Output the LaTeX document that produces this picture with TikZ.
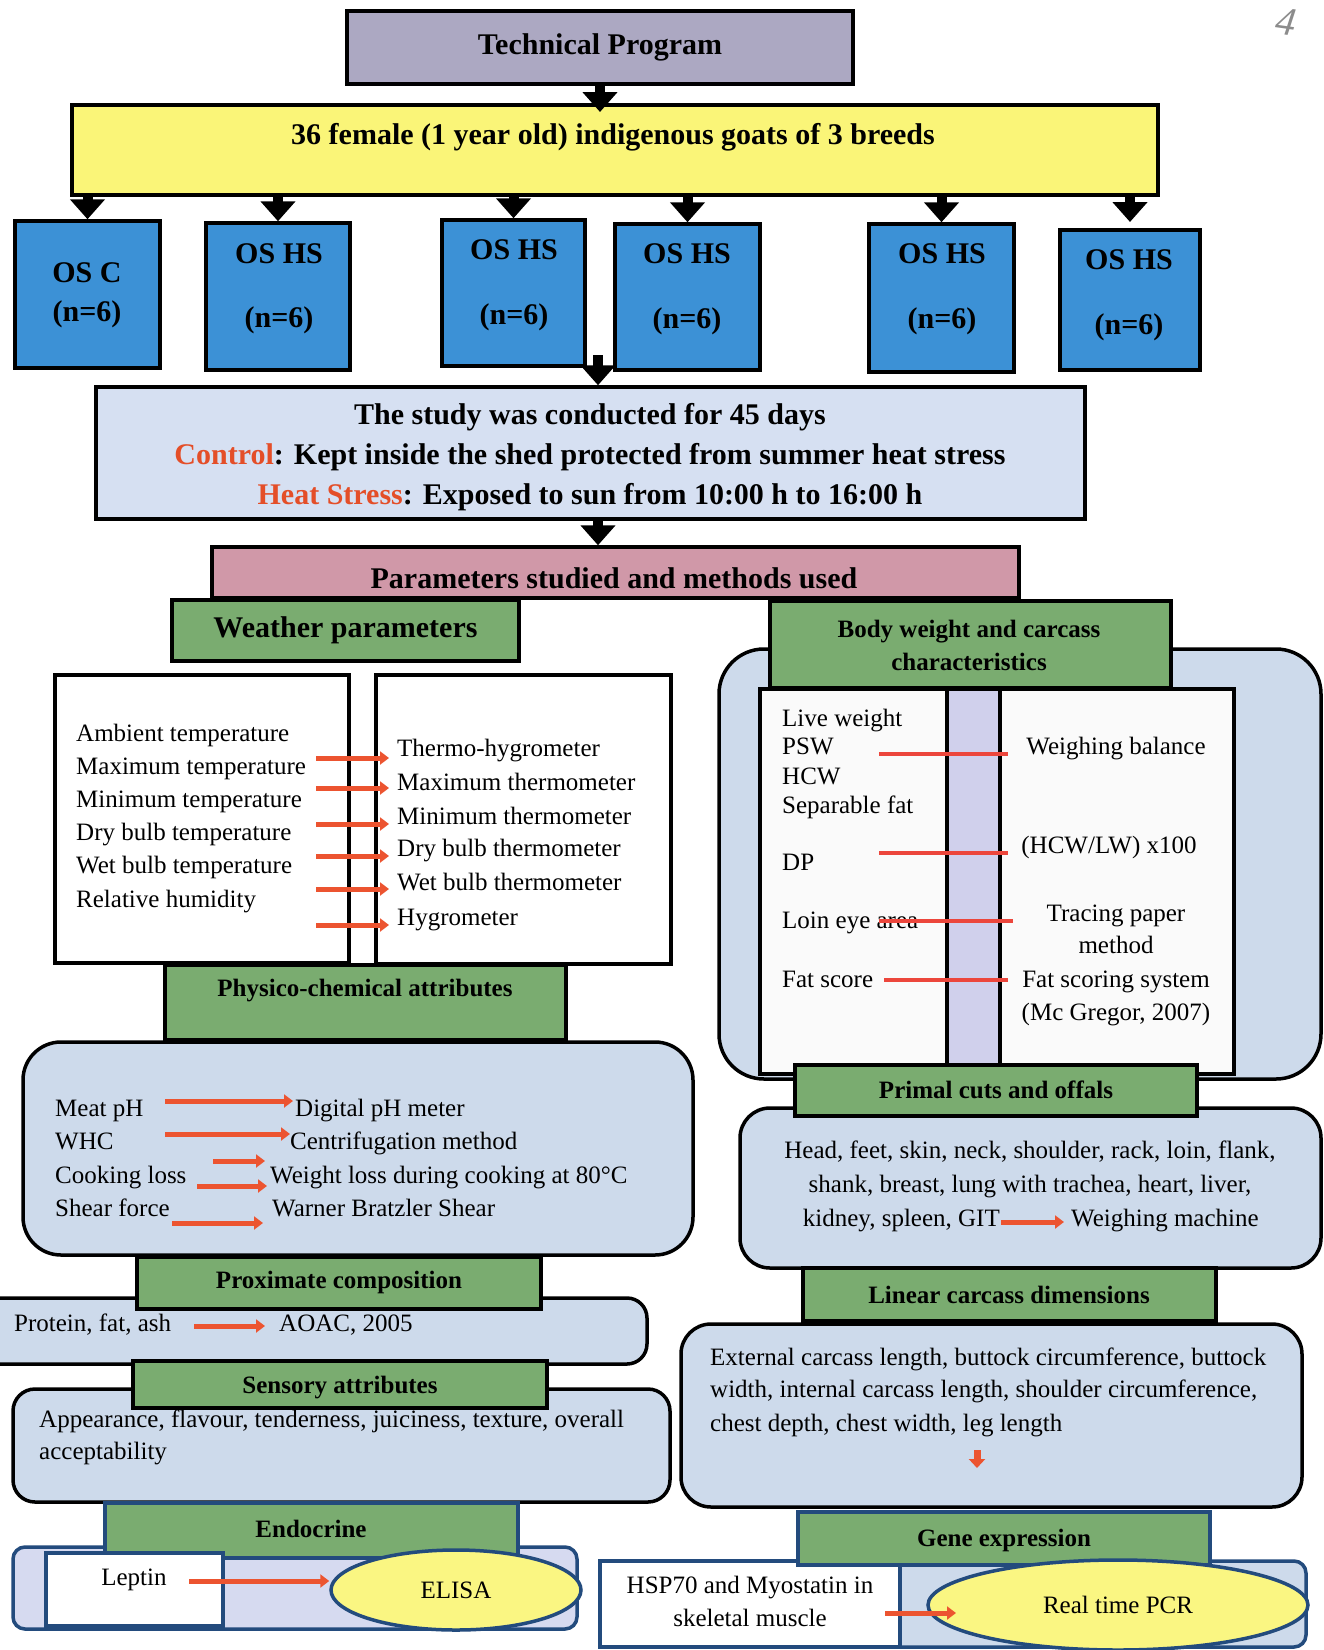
\documentclass[tikz,border=0pt]{standalone}
\usepackage{fontspec}
\setmainfont{Liberation Serif}
\usetikzlibrary{arrows.meta,shapes.geometric}
\newcommand\myfs[1]{\fontsize{#1}{#1}\selectfont}
\definecolor{tpfill}{RGB}{172,168,194}
\definecolor{yelfill}{RGB}{250,245,120}
\definecolor{bluefill}{RGB}{60,145,214}
\definecolor{studyfill}{RGB}{214,224,242}
\definecolor{pinkfill}{RGB}{208,152,168}
\definecolor{grn}{RGB}{122,172,112}
\definecolor{lblue}{RGB}{205,218,235}
\definecolor{lav}{RGB}{208,208,236}
\definecolor{endofill}{RGB}{214,218,240}
\definecolor{redarr}{RGB}{236,84,48}
\definecolor{redln}{RGB}{236,70,60}
\definecolor{ctrl}{RGB}{228,78,40}
\definecolor{navy}{RGB}{35,75,125}
\definecolor{ellfill}{RGB}{250,246,130}
\definecolor{offwhite}{RGB}{250,250,250}
\begin{document}
\begin{tikzpicture}[x=1pt,y=-1pt,
  bx/.style={draw=black, line width=3.5pt, inner sep=0pt, rectangle},
  nbx/.style={bx, draw=navy},
  grnbox/.style={bx, fill=grn},
  cont/.style={bx, fill=lblue},
  tb/.style={font=\bfseries\myfs{30}, inner sep=0pt},
  tm/.style={font=\bfseries\myfs{25}, inner sep=0pt},
  tr/.style={font=\myfs{25}, inner sep=0pt, text height=17pt, text depth=5pt},
  tl/.style={tr, anchor=west},
  blk/.style={line width=10pt, -{Triangle[width=34pt,length=20pt]}},
  rarr/.style={draw=redarr, line width=5pt, -{Triangle[width=13pt,length=9pt]}},
  rln/.style={draw=redln, line width=4pt},
]
\useasboundingbox[fill=white] (0,0) rectangle (1324,1650);

% ---------- top part ----------
\node[bx, fill=tpfill, minimum width=506pt, minimum height=73pt, tb] (tp) at (600,47.5) {Technical Program};
\node[bx, fill=yelfill, minimum width=1086pt, minimum height=90pt] (yel) at (615,150) {};
\node[tb] (yelt) at (613,137) {36 female (1 year old) indigenous goats of 3 breeds};

\node[bx, fill=bluefill, minimum width=145pt, minimum height=147pt] (b1) at (87.5,294.5) {};
\node[bx, fill=bluefill, minimum width=144pt, minimum height=147pt] (b2) at (278,296.5) {};
\node[bx, fill=bluefill, minimum width=143pt, minimum height=146pt] (b3) at (513.5,293) {};
\node[bx, fill=bluefill, minimum width=145pt, minimum height=146pt] (b4) at (687.5,297) {};
\node[bx, fill=bluefill, minimum width=145pt, minimum height=148pt] (b5) at (941.5,298) {};
\node[bx, fill=bluefill, minimum width=140pt, minimum height=140pt] (b6) at (1130,300) {};
\node[tb] (b1a) at (87,273) {OS C};   \node[tb] (b1b) at (87,314) {(n=6)};
\node[tb] (b2a) at (279,254) {OS HS}; \node[tb] (b2b) at (279,320) {(n=6)};
\node[tb] (b3a) at (514,250) {OS HS}; \node[tb] (b3b) at (514,317) {(n=6)};
\node[tb] (b4a) at (687,254) {OS HS}; \node[tb] (b4b) at (687,321) {(n=6)};
\node[tb] (b5a) at (942,254) {OS HS}; \node[tb] (b5b) at (942,321) {(n=6)};
\node[tb] (b6a) at (1129,260) {OS HS}; \node[tb] (b6b) at (1129,327) {(n=6)};

\node[bx, fill=studyfill, minimum width=989pt, minimum height=132pt] (study) at (590.5,453) {};
\node[font=\bfseries\fontsize{30}{40}\selectfont, align=center, inner sep=0pt] (studyt) at (590,457)
 {The study was conducted for 45 days\\
  \textcolor{ctrl}{Control}: Kept inside the shed protected from summer heat stress\\
  \textcolor{ctrl}{Heat Stress}: Exposed to sun from 10:00 h to 16:00 h};

\node[bx, fill=pinkfill, minimum width=807pt, minimum height=51pt] (par) at (615.5,572.5) {};
\node[tb] (part) at (614,578) {Parameters studied and methods used};

% black arrows
\coordinate (a0) at (600,112);
\draw[blk] (tp.south) -- (a0);
\draw[blk] (b1.north |- yel.south) -- (b1.north);
\draw[blk] (b2.north |- yel.south) -- (b2.north);
\draw[blk] (b3.north |- yel.south) -- (b3.north);
\draw[blk] (b4.north |- yel.south) -- (b4.north);
\draw[blk] (b5.north |- yel.south) -- (b5.north);
\coordinate (b6t) at (1130,222);
\draw[blk] (b6t |- yel.south) -- (b6t);
\coordinate (bs) at (598,355);
\draw[blk] (bs) -- (bs |- study.north);
\draw[blk] (study.south -| bs) -- (bs |- par.north);

% ---------- body weight (right) ----------
\node[cont, rounded corners=45pt, minimum width=602pt, minimum height=430pt] (bout) at (1020,864) {};
\node[grnbox, minimum width=401pt, minimum height=87pt] (bh) at (970.5,644.5) {};
\node[font=\bfseries\fontsize{25}{33}\selectfont, align=center, inner sep=0pt] (bht) at (969,645) {Body weight and carcass\\characteristics};
\node[bx, fill=offwhite, minimum width=474pt, minimum height=385pt] (bin) at (997,881.5) {};
\node[bx, fill=lav, minimum width=53pt, minimum height=385pt] (strip) at (973.5,881.5) {};

\node[tl] (lw)  at (782,720) {Live weight};
\node[tl] (psw) at (782,748) {PSW};
\node[tl] (hcw) at (782,778) {HCW};
\node[tl] (sf)  at (782,807) {Separable fat};
\node[tl] (dp)  at (782,864) {DP};
\node[tr] (wb)  at (1116,748) {Weighing balance};
\node[tr] (hl)  at (1109,847) {(HCW/LW) x100};
\node[tr] (tpp) at (1116,915) {Tracing paper};
\node[tr] (tpm) at (1116,947) {method};
\node[tr] (fss) at (1116,981) {Fat scoring system};
\node[tr] (mcg) at (1116,1014) {(Mc Gregor, 2007)};
\node[tl] (lea) at (782,922) {Loin eye area};
\node[tl] (fsc) at (782,981) {Fat score};
\coordinate (l1s) at (879,754);  \coordinate (l1e) at (1008,754);
\coordinate (l2s) at (879,853);  \coordinate (l2e) at (1008,853);
\coordinate (l3s) at (879,921);  \coordinate (l3e) at (1013,921);
\coordinate (l4s) at (884,980);  \coordinate (l4e) at (1008,980);
\draw[rln] (l1s) -- (l1e);
\draw[rln] (l2s) -- (l2e);
\draw[rln] (l3s) -- (l3e);
\draw[rln] (l4s) -- (l4e);

% ---------- weather ----------
\node[bx, fill=white, minimum width=294pt, minimum height=288pt] (wl) at (202,819) {};
\node[bx, fill=white, minimum width=295pt, minimum height=289pt] (wr) at (523.5,819.5) {};
\node[grnbox, minimum width=347pt, minimum height=61pt, tb] (wh) at (345.5,630.5) {Weather parameters};
\node[tl] (w1) at (76,735) {Ambient temperature};
\node[tl] (w2) at (76,768) {Maximum temperature};
\node[tl] (w3) at (76,801) {Minimum temperature};
\node[tl] (w4) at (76,834) {Dry bulb temperature};
\node[tl] (w5) at (76,867) {Wet bulb temperature};
\node[tl] (w6) at (76,901) {Relative humidity};
\node[tl] (m1) at (397,750) {Thermo-hygrometer};
\node[tl] (m2) at (397,784) {Maximum thermometer};
\node[tl] (m3) at (397,818) {Minimum thermometer};
\node[tl] (m4) at (397,850) {Dry bulb thermometer};
\node[tl] (m5) at (397,884) {Wet bulb thermometer};
\node[tl] (m6) at (397,919) {Hygrometer};
\foreach \i/\yy in {1/758,2/788,3/824,4/856,5/889,6/925}{
  \coordinate (ws\i) at (316,\yy);
  \coordinate (we\i) at (389,\yy);
  \draw[rarr] (ws\i) -- (we\i);
}

% ---------- physico-chemical ----------
\node[cont, rounded corners=38pt, minimum width=670pt, minimum height=213pt] (pbox) at (358,1148.5) {};
\node[grnbox, minimum width=401pt, minimum height=75pt] (ph) at (365.5,1002.5) {};
\node[tm] (pht) at (365,991) {Physico-chemical attributes};
\node[tl] (p1) at (55,1110) {Meat pH};
\node[tl] (p2) at (55,1143) {WHC};
\node[tl] (p3) at (55,1177) {Cooking loss};
\node[tl] (p4) at (55,1210) {Shear force};
\node[tl] (q1) at (295,1110) {Digital pH meter};
\node[tl] (q2) at (290,1143) {Centrifugation method};
\node[tl] (q3) at (270,1177) {Weight loss during cooking at 80°C};
\node[tl] (q4) at (272,1210) {Warner Bratzler Shear};
\coordinate (pa1s) at (165,1101); \coordinate (pa1e) at (293,1101);
\coordinate (pa2s) at (165,1134); \coordinate (pa2e) at (290,1134);
\coordinate (pa3s) at (213,1161); \coordinate (pa3e) at (265,1161);
\coordinate (pa4s) at (197,1186); \coordinate (pa4e) at (267,1186);
\coordinate (pa5s) at (172,1223); \coordinate (pa5e) at (263,1223);
\draw[rarr] (pa1s) -- (pa1e);
\draw[rarr] (pa2s) -- (pa2e);
\draw[rarr] (pa3s) -- (pa3e);
\draw[rarr] (pa4s) -- (pa4e);
\draw[rarr] (pa5s) -- (pa5e);

% ---------- proximate ----------
\node[cont, rounded corners=20pt, minimum width=667pt, minimum height=66pt] (prbox) at (313.5,1331) {};
\node[grnbox, minimum width=404pt, minimum height=52pt] (prh) at (339,1283) {};
\node[tm] (prht) at (339,1282) {Proximate composition};
\node[tl] (pr1) at (14,1325) {Protein, fat, ash};
\node[tl] (pr2) at (279,1325) {AOAC, 2005};
\coordinate (pras) at (194,1326); \coordinate (prae) at (265,1326);
\draw[rarr] (pras) -- (prae);

% ---------- sensory ----------
\node[cont, rounded corners=22pt, minimum width=657pt, minimum height=113pt] (sbox) at (341.5,1445.5) {};
\node[grnbox, minimum width=414pt, minimum height=47pt] (sh) at (340,1384.5) {};
\node[tm] (sht) at (340,1388) {Sensory attributes};
\node[tl] (s1) at (39,1421) {Appearance, flavour, tenderness, juiciness, texture, overall};
\node[tl] (s2) at (39,1453) {acceptability};

% ---------- endocrine ----------
\node[nbx, fill=endofill, rounded corners=12pt, minimum width=564pt, minimum height=82pt] (ebox) at (295,1588) {};
\node[nbx, fill=grn, minimum width=413pt, minimum height=55pt] (eh) at (311.5,1530.5) {};
\node[tm] (eht) at (311,1529) {Endocrine};
\node[nbx, fill=white, minimum width=177pt, minimum height=73pt] (lep) at (134.5,1589.5) {};
\node[tr] (lept) at (134,1579) {Leptin};
\node[ellipse, draw=navy, line width=3.5pt, fill=ellfill, minimum width=250pt, minimum height=80pt, inner sep=0pt, font=\myfs{25}] (elisa) at (456,1590) {ELISA};
\coordinate (eas) at (189,1581);
\draw[rarr] (eas) -- (eas -| elisa.west);

% ---------- primal cuts ----------
\node[cont, rounded corners=30pt, minimum width=581pt, minimum height=160pt] (pcbox) at (1030.5,1188) {};
\node[grnbox, minimum width=402pt, minimum height=51pt] (pch) at (996,1090.5) {};
\node[tm] (pcht) at (996,1090) {Primal cuts and offals};
\node[tr] (pc1) at (1030,1152) {Head, feet, skin, neck, shoulder, rack, loin, flank,};
\node[tr] (pc2) at (1030,1186) {shank, breast, lung with trachea, heart, liver,};
\node[tr, anchor=east] (pc3) at (1000,1220) {kidney, spleen, GIT};
\node[tl] (pc4) at (1071,1220) {Weighing machine};
\coordinate (pcas) at (1001,1222); \coordinate (pcae) at (1064,1222);
\draw[rarr] (pcas) -- (pcae);

% ---------- linear ----------
\node[cont, rounded corners=30pt, minimum width=621pt, minimum height=183pt] (lbox) at (991.5,1415.5) {};
\node[grnbox, minimum width=413pt, minimum height=53pt] (lh) at (1009.5,1294.5) {};
\node[tm] (lht) at (1009,1295) {Linear carcass dimensions};
\node[tl] (lc1) at (710,1359) {External carcass length, buttock circumference, buttock};
\node[tl] (lc2) at (710,1391) {width, internal carcass length, shoulder circumference,};
\node[tl] (lc3) at (710,1425) {chest depth, chest width, leg length};
\coordinate (dns) at (977,1450); \coordinate (dne) at (977,1468);
\draw[draw=redarr, line width=7pt, -{Triangle[width=16pt,length=9pt]}] (dns) -- (dne);

% ---------- gene expression ----------
\node[nbx, fill=lblue, rounded corners=12pt, minimum width=706pt, minimum height=86pt] (gbox) at (953,1604) {};
\node[nbx, fill=white, minimum width=300pt, minimum height=86pt] (gw) at (750,1604) {};
\node[nbx, fill=grn, minimum width=412pt, minimum height=53pt] (gh) at (1004,1538.5) {};
\node[tm] (ght) at (1004,1540) {Gene expression};
\node[tr] (g1) at (750,1587) {HSP70 and Myostatin in};
\node[tr] (g2) at (750,1620) {skeletal muscle};
\node[ellipse, draw=navy, line width=3.5pt, fill=ellfill, minimum width=380pt, minimum height=90pt, inner sep=0pt, font=\myfs{25}] (pcr) at (1118,1605) {Real time PCR};
\coordinate (gas) at (885,1613); \coordinate (gae) at (956,1613);
\draw[rarr] (gas) -- (gae);

% pencil mark
\node[text=black!45, font=\itshape\myfs{40}, rotate=-8, inner sep=0pt] (pg) at (1286,22) {4};
\end{tikzpicture}
\end{document}
